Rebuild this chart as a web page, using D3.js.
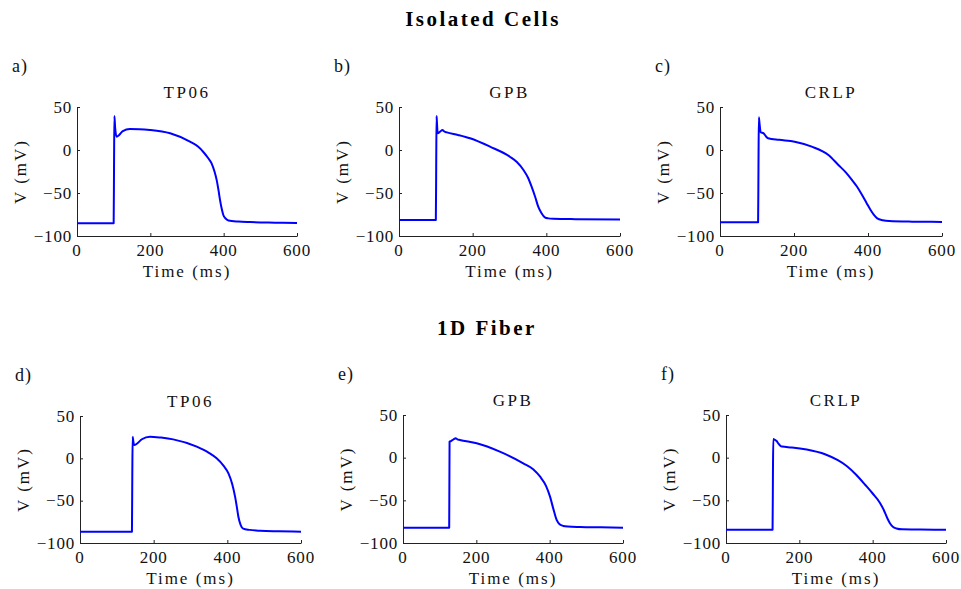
<!DOCTYPE html>
<html lang="en">
<head>
<meta charset="utf-8">
<title>Action potentials</title>
<script src="https://d3js.org/d3.v7.min.js"></script>
<style>
* { margin: 0; padding: 0; }
body { background: #fff; }
</style>
</head>
<body>
<script>
// ---- data (time in ms, voltage in mV) ----
let panelLetters = ["a)", "b)", "c)", "d)", "e)", "f)"];
let modelNames = ["TP06", "GPB", "CRLP", "TP06", "GPB", "CRLP"];
let rowTitles = ["Isolated Cells", "1D Fiber"];
let xTicks = [0, 200, 400, 600];
let yTicks = [-100, -50, 0, 50];

let tpCellT = [0, 100, 101, 102, 104, 108, 115, 125, 144, 170, 199, 254, 308, 330, 344, 357, 367, 375, 381, 386, 390, 395, 399, 406, 413, 440, 472, 540, 600];
let tpCellV = [-85.3, -85.3, -20, 39.5, 26, 15.5, 17.5, 22, 24.4, 24.2, 23.3, 19.4, 9.7, 4, -2, -9, -15.5, -25, -35, -47, -58, -69, -75.6, -80, -82, -83.2, -83.8, -84.5, -85];

let gpbCellT = [0, 100, 101, 102, 103, 105, 112, 118, 123, 130, 160, 193, 247, 301, 320, 338, 350, 360, 370, 378, 387, 396, 405, 419, 480, 600];
let gpbCellV = [-81.4, -81.4, -20, 39.5, 32, 19.5, 21.5, 23.3, 21.5, 20.5, 17.5, 13.6, 3.9, -7.8, -14, -23.3, -32, -42.7, -55, -65.9, -73.5, -78.3, -79.5, -80, -80.4, -80.7];

let crlpCellT = [0, 103, 104, 105, 107, 110, 118, 124, 130, 160, 202, 248, 293, 320, 340, 357, 370, 384, 396, 407, 416, 425, 440, 457, 520, 600];
let crlpCellV = [-84, -84, -20, 38, 30, 20.6, 19.4, 16, 13.6, 11.8, 9.7, 3.9, -5.8, -17.4, -26, -35, -42.5, -52.3, -61.5, -69.8, -75.5, -79.5, -81.6, -82.6, -83.3, -83.6];

let tpFibT = [0, 141, 142, 143, 144.5, 147, 155, 168, 190, 220, 253, 317, 350, 371, 390, 403, 413, 421, 426, 430, 436, 443, 460, 489, 540, 600];
let tpFibV = [-86.6, -86.6, -20, 25.6, 21, 15.7, 17.5, 22.5, 25.6, 24.5, 22.4, 13.8, 6.5, 0, -9, -17.7, -30, -45.3, -58, -69, -78.5, -83, -84.5, -85.5, -86.1, -86.6];

let gpbFibT = [0, 126, 127, 131, 135.5, 140, 143.6, 148, 155, 201, 264, 328, 355, 374, 390, 401, 410, 419, 427, 437, 450, 483, 540, 600];
let gpbFibV = [-82, -82, 18.7, 19.5, 20.7, 22, 22.7, 21.5, 20.7, 16.8, 7, -6.6, -13.5, -22.3, -33, -45.7, -60, -73, -78, -80, -80.7, -81.2, -81.6, -82];

let crlpFibT = [0, 127, 128, 129, 133, 138, 143, 148, 153, 180, 220, 270, 305, 330, 355, 380, 400, 420, 430, 440, 448, 455, 465, 480, 530, 600];
let crlpFibV = [-84.5, -84.5, -20, 21.8, 21, 19.5, 16.5, 14, 13, 12, 9.5, 4, -3, -10, -20, -32, -42, -53, -61, -71, -77.5, -81, -83, -84, -84.3, -84.5];

let seriesT = [tpCellT, gpbCellT, crlpCellT, tpFibT, gpbFibT, crlpFibT];
let seriesV = [tpCellV, gpbCellV, crlpCellV, tpFibV, gpbFibV, crlpFibV];

// ---- layout ----
let w = 961, h = 589;
let boxes = [ // [left, right, top, bottom] of each axes
  [77, 297, 107, 236], [399, 620, 107, 236], [720, 942, 107, 236],
  [80, 301, 416, 543], [403, 623, 415, 543], [726, 946, 415, 543]
];
let lineColor = "#0000ff";
let serif = "'Liberation Serif', 'DejaVu Serif', 'Times New Roman', serif";

let svg = d3.select("body").append("svg")
  .attr("width", w)
  .attr("height", h)
  .attr("font-family", serif)
  .style("font-family", serif);

// row headers
[[483, 26], [487, 335]].forEach(function(p, i){
  svg.append("text")
    .text(rowTitles[i])
    .attr("x", p[0]).attr("y", p[1])
    .attr("text-anchor", "middle")
    .attr("font-size", 21)
    .attr("font-weight", "bold")
    .attr("letter-spacing", 2.5);
});

boxes.forEach(function(b, i){
  let x = d3.scaleLinear().domain([0, 600]).range([b[0], b[1]]);
  let y = d3.scaleLinear().domain([-100, 50]).range([b[3], b[2]]);
  let g = svg.append("g");

  // x axis: ticks pointing inward
  g.append("g")
    .attr("transform", "translate(0," + b[3] + ")")
    .call(d3.axisTop(x).tickValues(xTicks).tickSize(3).tickSizeOuter(0).tickFormat(""))
    .call(a => a.selectAll("path, line").attr("stroke", "#222"));
  g.selectAll(".xlab").data(xTicks).enter().append("text")
    .text(d => d)
    .attr("x", d => x(d)).attr("y", b[3] + 20)
    .attr("text-anchor", "middle")
    .attr("font-size", 17)
    .attr("letter-spacing", 0.8)
    .attr("fill", "#111");

  // y axis
  g.append("g")
    .attr("transform", "translate(" + b[0] + ",0)")
    .call(d3.axisRight(y).tickValues(yTicks).tickSize(3).tickSizeOuter(0).tickFormat(""))
    .call(a => a.selectAll("path, line").attr("stroke", "#222"));
  g.selectAll(".ylab").data(yTicks).enter().append("text")
    .text(d => d < 0 ? "\u2212" + Math.abs(d) : d)
    .attr("x", b[0] - 5).attr("y", d => y(d))
    .attr("dy", "0.33em")
    .attr("text-anchor", "end")
    .attr("font-size", 17)
    .attr("letter-spacing", 0.8)
    .attr("fill", "#111");

  // trace
  let pts = d3.zip(seriesT[i], seriesV[i]);
  g.append("path")
    .datum(pts)
    .attr("fill", "none")
    .attr("stroke", lineColor)
    .attr("stroke-width", 2)
    .attr("stroke-linejoin", "round")
    .attr("d", d3.line().x(d => x(d[0])).y(d => y(d[1])).curve(d3.curveMonotoneX));

  // labels
  g.append("text").text(modelNames[i])
    .attr("x", (b[0] + b[1]) / 2).attr("y", b[2] - 9)
    .attr("text-anchor", "middle")
    .attr("font-size", 17)
    .attr("letter-spacing", 2.5)
    .attr("fill", "#111");
  g.append("text").text(panelLetters[i])
    .attr("x", b[0] - 65).attr("y", b[2] - 35)
    .attr("font-size", 18)
    .attr("letter-spacing", 1)
    .attr("fill", "#111");
  g.append("text").text("Time (ms)")
    .attr("x", (b[0] + b[1]) / 2).attr("y", b[3] + 41)
    .attr("text-anchor", "middle")
    .attr("font-size", 17)
    .attr("letter-spacing", 2)
    .attr("fill", "#111");
  g.append("text").text("V (mV)")
    .attr("transform", "translate(" + (b[0] - 51) + "," + ((b[2] + b[3]) / 2) + ") rotate(-90)")
    .attr("text-anchor", "middle")
    .attr("font-size", 17)
    .attr("letter-spacing", 2)
    .attr("fill", "#111");
});
</script>
</body>
</html>
